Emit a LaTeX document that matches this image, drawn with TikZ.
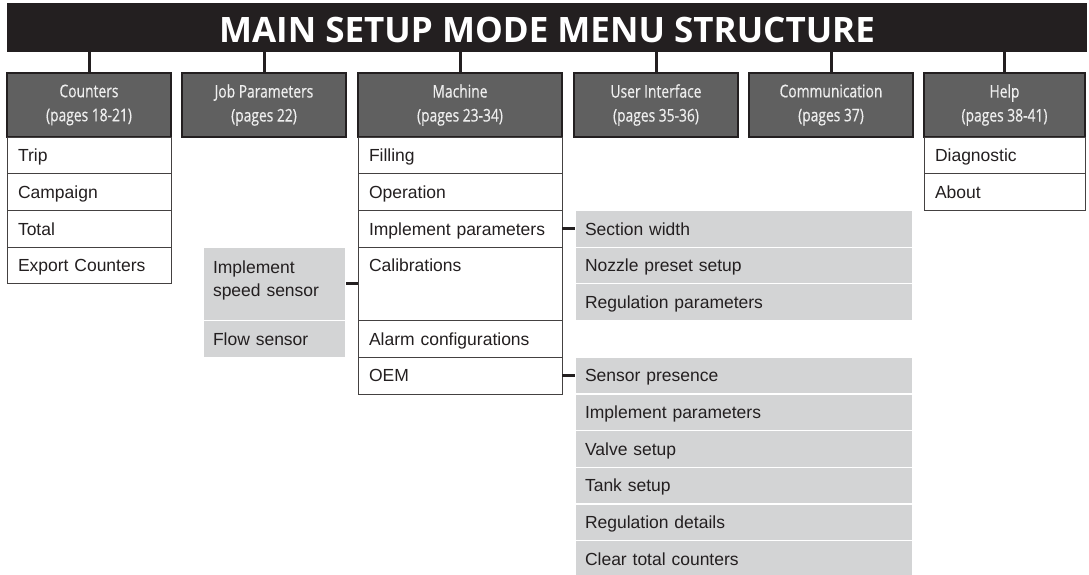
\documentclass[tikz,border=0pt]{standalone}
\usepackage{fontspec}
\setmainfont{Liberation Sans}
\newfontfamily\titlefont{Open Sans}
\newfontfamily\headfont[FakeStretch=0.79,FakeBold=0.5]{Open Sans}
\usetikzlibrary{positioning}

\definecolor{barblack}{HTML}{231F20}
\definecolor{headgray}{HTML}{606060}
\definecolor{headtext}{HTML}{EEEEEE}
\definecolor{subgray}{HTML}{D3D4D5}

\tikzset{
  titlebar/.style={fill=barblack, text=white, anchor=north west, outer sep=0pt,
    minimum width=1080pt, minimum height=49pt, inner sep=0pt,
    text height=29pt, text depth=0pt,
    font=\titlefont\bfseries\fontsize{35}{35}\selectfont},
  headbox/.style={draw=barblack, line width=1.5pt, fill=headgray, text=headtext,
    anchor=north west, outer sep=0pt, minimum height=64pt, inner sep=0pt,
    align=center, font=\headfont\fontsize{17.5}{24}\selectfont},
  itembox/.style={draw=barblack!85, line width=0.8pt, fill=white, text=barblack,
    anchor=north west, outer sep=0pt, minimum height=36.7pt,
    inner xsep=11pt, inner ysep=0pt, text height=12.5pt, text depth=0pt,
    align=left, font=\fontsize{17.5}{23.5}\selectfont},
  subbox/.style={itembox, draw=white, line width=1.2pt, fill=subgray, inner xsep=10pt},
  link/.style={barblack, line width=3pt},
}

\begin{document}
\begin{tikzpicture}[x=1pt, y=-1pt]
  \useasboundingbox (0,0) rectangle (1089,574);
  \pgfmathsetmacro{\yh}{73}

  % title bar
  \node[titlebar] (title) at (7,3) {MAIN SETUP MODE MENU STRUCTURE};

  % menu headers
  \node[headbox, minimum width=164pt] (counters) at (7,\yh) {Counters\\(pages 18-21)};
  \node[headbox, minimum width=164pt] (jobpar) at (182,\yh) {Job Parameters\\(pages 22)};
  \node[headbox, minimum width=204pt] (machine) at (358,\yh) {Machine\\(pages 23-34)};
  \node[headbox, minimum width=164pt] (userif) at (574,\yh) {User Interface\\(pages 35-36)};
  \node[headbox, minimum width=164pt] (comm) at (749,\yh) {Communication\\(pages 37)};
  \node[headbox, minimum width=161pt] (help) at (924,\yh) {Help\\(pages 38-41)};

  \draw[link] (title.south -| counters.north) -- (counters.north);
  \draw[link] (title.south -| jobpar.north) -- (jobpar.north);
  \draw[link] (title.south -| machine.north) -- (machine.north);
  \draw[link] (title.south -| userif.north) -- (userif.north);
  \draw[link] (title.south -| comm.north) -- (comm.north);
  \draw[link] (title.south -| help.north) -- (help.north);

  % counters
  \node[itembox, text width=142pt] (trip) at (counters.south west) {Trip};
  \node[itembox, text width=142pt] (campaign) at (trip.south west) {Campaign};
  \node[itembox, text width=142pt] (total) at (campaign.south west) {Total};
  \node[itembox, text width=142pt] (export) at (total.south west) {Export Counters};

  % machine
  \node[itembox, text width=182pt] (filling) at (machine.south west) {Filling};
  \node[itembox, text width=182pt] (operation) at (filling.south west) {Operation};
  \node[itembox, text width=182pt] (imparam) at (operation.south west) {Implement parameters};
  \node[itembox, text width=182pt, minimum height=73.4pt, text depth=36.7pt]
    (calib) at (imparam.south west) {Calibrations};
  \node[itembox, text width=182pt] (alarm) at (calib.south west) {Alarm configurations};
  \node[itembox, text width=182pt] (oem) at (alarm.south west) {OEM};

  % calibrations submenu
  \node[subbox, text width=123pt, minimum height=73.4pt, anchor=north east,
    text height=13pt, text depth=34.4pt]
    (speedsens) at ([xshift=-12pt]calib.north west) {Implement\\speed sensor};
  \node[subbox, text width=123pt] (flowsens) at (speedsens.south west) {Flow sensor};
  \draw[link] (calib.west) -- (speedsens.east);

  % implement parameters submenu
  \node[subbox, text width=318pt] (secwidth) at ([xshift=13pt]imparam.north east) {Section width};
  \node[subbox, text width=318pt] (nozzle) at (secwidth.south west) {Nozzle preset setup};
  \node[subbox, text width=318pt] (regpar) at (nozzle.south west) {Regulation parameters};
  \draw[link] (imparam.east) -- (secwidth.west);

  % OEM submenu
  \node[subbox, text width=318pt] (senspres) at ([xshift=13pt]oem.north east) {Sensor presence};
  \node[subbox, text width=318pt] (oemimpl) at (senspres.south west) {Implement parameters};
  \node[subbox, text width=318pt] (valve) at (oemimpl.south west) {Valve setup};
  \node[subbox, text width=318pt] (tank) at (valve.south west) {Tank setup};
  \node[subbox, text width=318pt] (regdet) at (tank.south west) {Regulation details};
  \node[subbox, text width=318pt] (clear) at (regdet.south west) {Clear total counters};
  \draw[link] (oem.east) -- (senspres.west);

  % help
  \node[itembox, text width=139pt] (diag) at (help.south west) {Diagnostic};
  \node[itembox, text width=139pt] (about) at (diag.south west) {About};
\end{tikzpicture}
\end{document}
